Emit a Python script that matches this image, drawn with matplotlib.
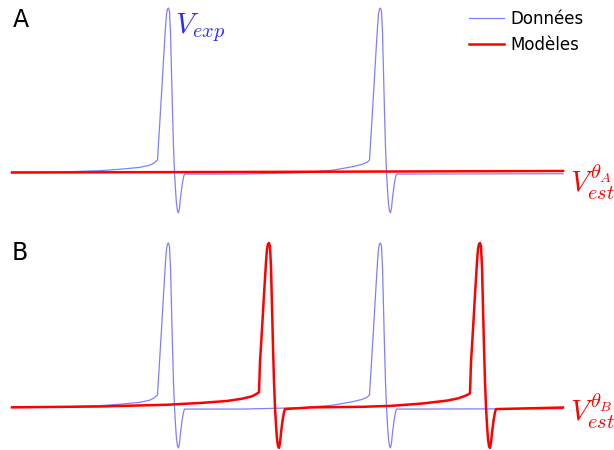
import matplotlib
matplotlib.use("Agg")
import matplotlib.pyplot as plt
import numpy as np

plt.rcParams["mathtext.fontset"] = "cm"

# ---- values (t in ms, V in mV) ----
# shape of one action potential, relative to its peak time
SPIKE_DT = [-9, -7, -5, -3, -2, -1, 0, 1, 2, 3, 4, 5, 6, 7, 8, 9, 10,
            11, 12, 13.5, 15, 16]
SPIKE_V = [-39, -20, 0, 19, 26.5, 29.4, 30, 28, 16, -7, -30, -50.5, -65,
           -75.4, -83.5, -87.6, -88.7, -85.8, -80, -73, -68, -66.2]

# recorded data: spike times and sub-threshold stretches between them
DATA_PEAKS = [156.5, 368.5]
DATA_SUB_T = [[0, 48, 88, 108, 128, 138, 142, 145.5],
              [230, 290, 320, 340, 350, 355, 357.5],
              [551]]
DATA_SUB_V = [[-65.0, -65.0, -64.2, -63.4, -62.3, -61.0, -59.8, -58.0],
              [-66.2, -65.4, -64.0, -62.0, -60.6, -59.4, -58.0],
              [-66.0]]

# model A: never reaches threshold
MODEL_A_T = [0, 275, 551]
MODEL_A_V = [-65.3, -64.9, -64.4]

# model B: fires, but late
MODEL_B_PEAKS = [257, 468]
MODEL_B_SUB_T = [[0, 88, 155, 190, 215, 230, 240, 244, 247],
                 [300, 350, 380, 410, 435, 446, 452, 456, 458],
                 [551]]
MODEL_B_SUB_V = [[-65.2, -64.7, -63.7, -62.6, -61.5, -60.2, -58.8, -57.6, -56.5],
                 [-65.2, -64.9, -64.3, -63.0, -61.3, -60.0, -58.8, -57.8, -57.0],
                 [-65.3]]


def build_trace(sub_t, sub_v, peaks):
    t, v = list(sub_t[0]), list(sub_v[0])
    for k, tp in enumerate(peaks):
        t += [tp + d for d in SPIKE_DT]
        v += SPIKE_V
        t += sub_t[k + 1]
        v += sub_v[k + 1]
    return np.array(t), np.array(v)


data_t, data_v = build_trace(DATA_SUB_T, DATA_SUB_V, DATA_PEAKS)
modB_t, modB_v = build_trace(MODEL_B_SUB_T, MODEL_B_SUB_V, MODEL_B_PEAKS)

BLUE = "#8080ff"
RED = "#ff0000"

fig = plt.figure(figsize=(6.14, 4.5), dpi=100)
W, H = 614.0, 450.0
axA = fig.add_axes([12 / W, 0.5, 551 / W, 0.5])
axB = fig.add_axes([12 / W, 0.0, 551 / W, 0.5])

axA.plot(data_t, data_v, color=BLUE, lw=0.9, label="Données", clip_on=False)
axA.plot(MODEL_A_T, MODEL_A_V, color=RED, lw=1.8, label="Modèles", clip_on=False)
axB.plot(data_t, data_v, color=BLUE, lw=0.9, clip_on=False)
axB.plot(modB_t, modB_v, color=RED, lw=1.8, clip_on=False)

axA.set_ylim(-95.70, 34.64)
axB.set_ylim(-89.91, 40.43)
for ax in (axA, axB):
    ax.set_xlim(0, 551)
    ax.axis("off")

fig.legend(loc="upper left", bbox_to_anchor=(469 / W, 1 - 10 / H),
           frameon=False, fontsize=12, borderaxespad=0, borderpad=0,
           handlelength=2.1, handletextpad=0.4)

fig.text(13 / W, 1 - 27 / H, "A", fontsize=17, va="baseline")
fig.text(12 / W, 1 - 260 / H, "B", fontsize=17, va="baseline")

fig.text(175 / W, 1 - 33 / H, r"$V_{exp}$", color="#2b2bff", fontsize=21, va="baseline")
fig.text(570 / W, 1 - 193 / H, r"$V_{est}^{\theta_A}$", color=RED, fontsize=21, va="baseline")
fig.text(570 / W, 1 - 422 / H, r"$V_{est}^{\theta_B}$", color=RED, fontsize=21, va="baseline")

fig.savefig("out.png", dpi=100)
